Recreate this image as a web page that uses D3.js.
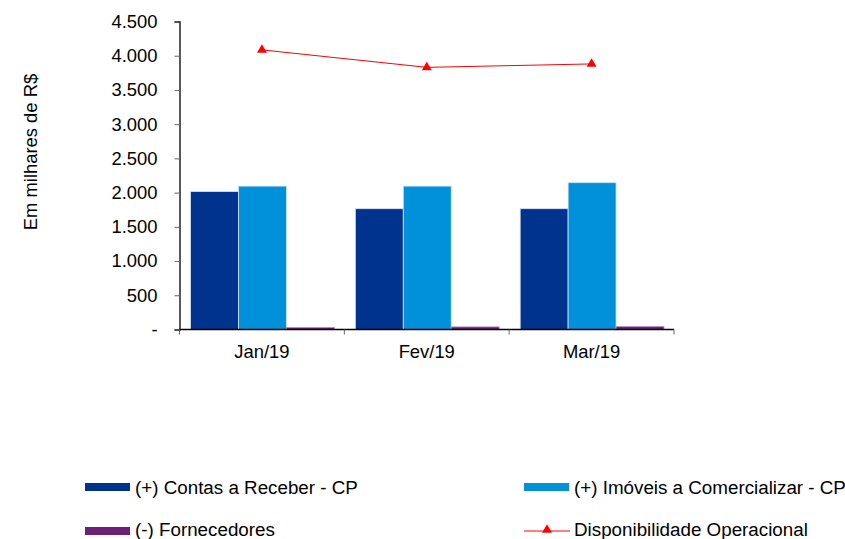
<!DOCTYPE html>
<html>
<head>
<meta charset="utf-8">
<script src="https://cdn.jsdelivr.net/npm/d3@7"></script>
<style>
  html, body { margin: 0; padding: 0; background: #fff; }
  svg { display: block; font-family: "Liberation Sans", Arial, sans-serif; }
</style>
</head>
<body>
<svg id="chart" width="845" height="539"></svg>
<script>
const categories = ["Jan/19", "Fev/19", "Mar/19"];
const seriesNames = ["(+) Contas a Receber - CP", "(+) Imóveis a Comercializar - CP", "(-) Fornecedores"];
const contasReceber = [2015, 1765, 1765];
const imoveisComercializar = [2095, 2095, 2145];
const fornecedores = [30, 38, 42];
const disponibilidade = [4085, 3830, 3880];
const lineName = "Disponibilidade Operacional";
const yTicks = [0, 500, 1000, 1500, 2000, 2500, 3000, 3500, 4000, 4500];
const colors = ["#00338D", "#0091DA", "#6D2077"];
const lineColor = "#FF0000";

const svg = d3.select("#chart");
const mLeft = 179.5, mRight = 674, mTop = 21.5, mBottom = 329.5;

const x = d3.scaleBand().domain(categories).range([mLeft, mRight]).paddingInner(0).paddingOuter(0);
const xs = d3.scaleBand().domain(d3.range(3)).range([11, x.bandwidth() - 10]).padding(0);
const y = d3.scaleLinear().domain([0, 4500]).range([mBottom, mTop]);

const fmt = v => v === 0 ? "-" : d3.format(",")(v).replace(/,/g, ".");

// y axis
const yAxis = svg.append("g").attr("transform", `translate(${mLeft},0)`)
  .call(d3.axisLeft(y).tickValues(yTicks).tickSize(5).tickPadding(17).tickFormat(fmt));
yAxis.select(".domain").attr("stroke", "#000").attr("stroke-width", 1.3);
yAxis.selectAll(".tick line").attr("stroke", "#666");
yAxis.selectAll("text").attr("font-size", 18.4).attr("fill", "#000")
  .attr("font-family", "Liberation Sans, Arial, sans-serif");

// y title
svg.append("text")
  .attr("transform", "translate(37,152) rotate(-90)")
  .attr("text-anchor", "middle")
  .attr("font-size", 18.4)
  .attr("fill", "#000")
  .text("Em milhares de R$");

// bars
const data = [contasReceber, imoveisComercializar, fornecedores];
const groups = svg.append("g").selectAll("g").data(categories).join("g")
  .attr("transform", d => `translate(${x(d)},0)`);
groups.selectAll("rect").data((c, i) => data.map((s, k) => ({ k, v: s[i] }))).join("rect")
  .attr("x", d => xs(d.k))
  .attr("width", xs.bandwidth())
  .attr("y", d => y(d.v))
  .attr("height", d => y(0) - y(d.v))
  .attr("fill", d => colors[d.k])
  .attr("stroke", d => d.k === 2 ? "#b98cc4" : "#d7e3f0")
  .attr("stroke-width", 0.8);

// x axis
const xAxisG = svg.append("g").attr("transform", `translate(0,${mBottom})`);
xAxisG.append("line").attr("x1", mLeft).attr("x2", mRight).attr("y1", 0).attr("y2", 0)
  .attr("stroke", "#000").attr("stroke-width", 1.3);
const boundaries = categories.map(c => x(c)).concat([x(categories[categories.length - 1]) + x.bandwidth()]);
xAxisG.selectAll("line.tk").data(boundaries).join("line").attr("class", "tk")
  .attr("x1", d => d).attr("x2", d => d).attr("y1", 0).attr("y2", 5)
  .attr("stroke", "#666");
xAxisG.selectAll("text").data(categories).join("text")
  .attr("x", d => x(d) + x.bandwidth() / 2)
  .attr("y", 28)
  .attr("text-anchor", "middle")
  .attr("font-size", 18.4)
  .attr("fill", "#000")
  .text(d => d);

// line
const lineGen = d3.line().x((d, i) => x(categories[i]) + x.bandwidth() / 2).y(d => y(d));
svg.append("path").datum(disponibilidade).attr("d", lineGen)
  .attr("fill", "none").attr("stroke", lineColor).attr("stroke-width", 1);
const tri = d3.symbol().type(d3.symbolTriangle).size(42);
svg.selectAll("path.mk").data(disponibilidade).join("path").attr("class", "mk")
  .attr("d", tri)
  .attr("transform", (d, i) => `translate(${x(categories[i]) + x.bandwidth() / 2},${y(d)})`)
  .attr("fill", lineColor);

// legend
const legendItems = [
  { name: seriesNames[0], type: "rect", color: colors[0], sx: 85, cy: 487, base: 493.5 },
  { name: seriesNames[1], type: "rect", color: colors[1], sx: 524, cy: 487, base: 493.5 },
  { name: seriesNames[2], type: "rect", color: colors[2], sx: 85, cy: 531, base: 536 },
  { name: lineName, type: "line", color: lineColor, sx: 524, cy: 531, base: 536 }
];
const lg = svg.append("g").selectAll("g").data(legendItems).join("g");
lg.each(function(d) {
  const g = d3.select(this);
  if (d.type === "rect") {
    g.append("rect").attr("x", d.sx).attr("y", d.cy - 4).attr("width", 45).attr("height", 8).attr("fill", d.color);
  } else {
    g.append("line").attr("x1", d.sx).attr("x2", d.sx + 46).attr("y1", d.cy).attr("y2", d.cy)
      .attr("stroke", d.color).attr("stroke-width", 1);
    g.append("path").attr("d", tri).attr("transform", `translate(${d.sx + 23},${d.cy - 1})`).attr("fill", d.color);
  }
  g.append("text").attr("x", d.sx + 50).attr("y", d.base)
    .attr("font-size", 18.8).attr("fill", "#000").text(d.name);
});
</script>
</body>
</html>
